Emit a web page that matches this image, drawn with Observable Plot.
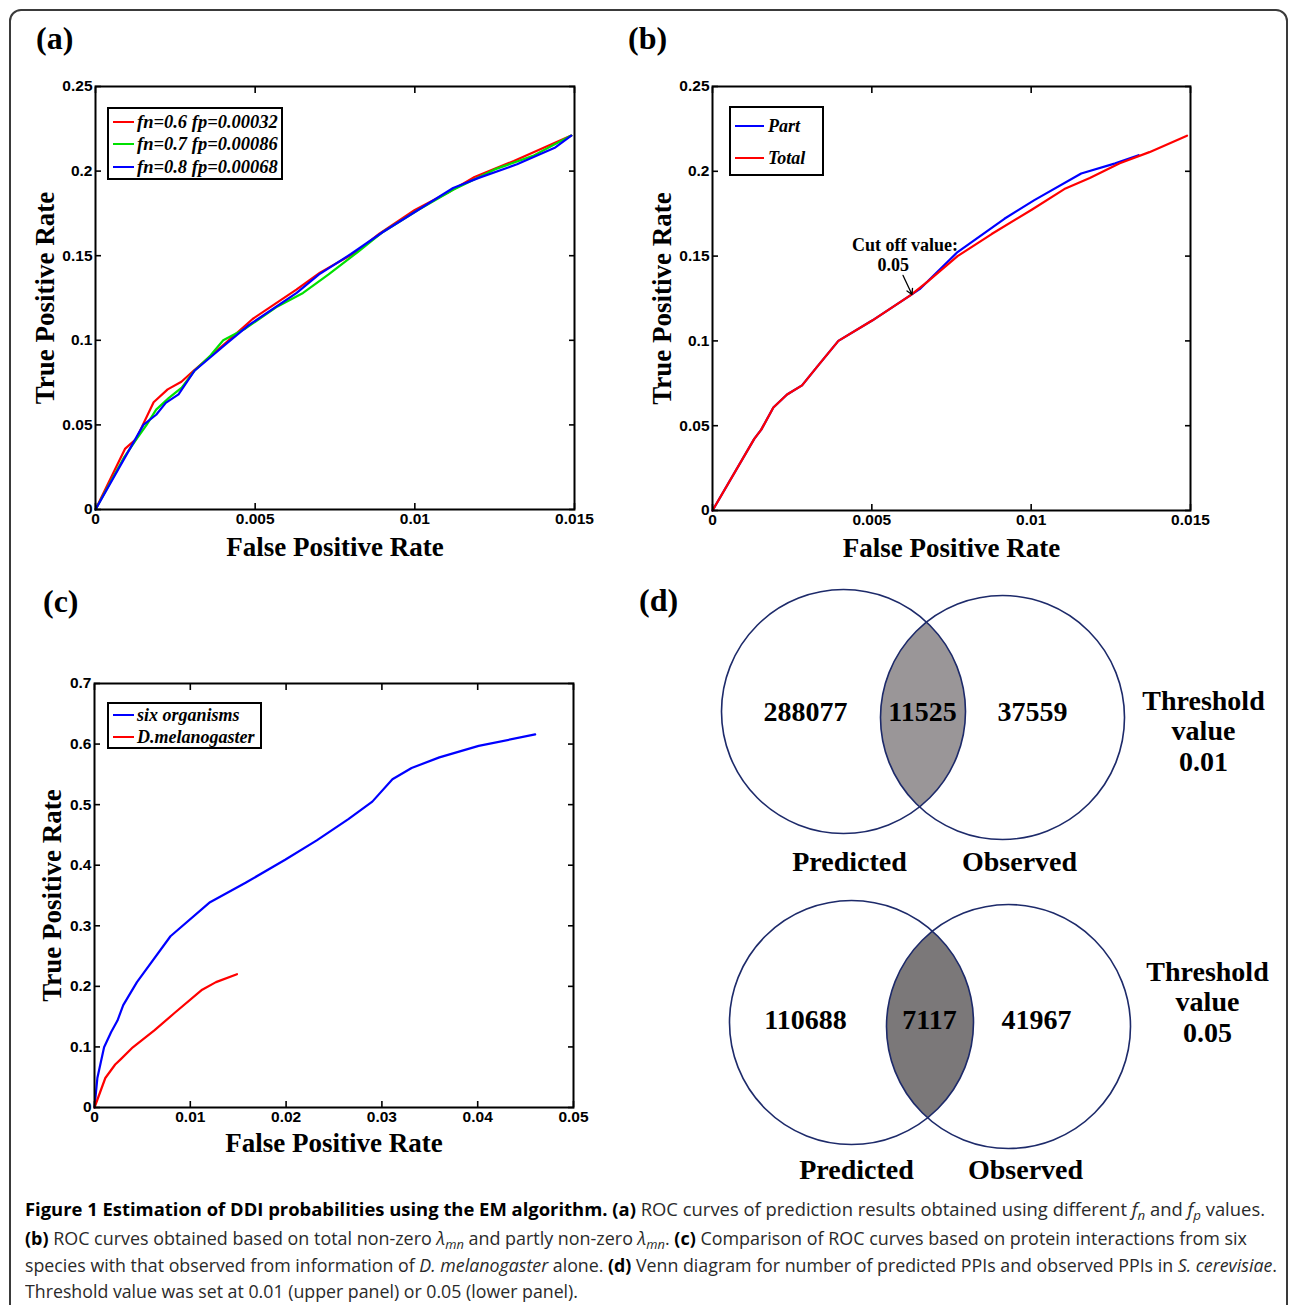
<!DOCTYPE html>
<html><head><meta charset="utf-8">
<script src="https://cdn.jsdelivr.net/npm/d3@7"></script>
<script src="https://cdn.jsdelivr.net/npm/@observablehq/plot@0.6"></script>
<style>
body{margin:0;background:#fff;}
#page{position:relative;width:1290px;height:1305px;overflow:hidden;background:#fff;}
#border{position:absolute;left:9px;top:9px;width:1279px;height:1330px;border:2px solid #3a3a3a;border-radius:12px;box-sizing:border-box;}
.plabel{position:absolute;font-family:"Liberation Serif","Times New Roman",serif;font-weight:bold;font-size:32px;line-height:1;color:#000;}
.legend{position:absolute;border:2px solid #000;background:#fff;box-sizing:border-box;font-family:"Liberation Serif","Times New Roman",serif;font-weight:bold;font-style:italic;color:#000;}
.legend .row{position:absolute;white-space:nowrap;line-height:1;}
.legend .sw{position:absolute;height:2.5px;}
.cl{position:absolute;left:25px;white-space:nowrap;font-family:"Open Sans",sans-serif;font-size:18px;line-height:24px;color:#2a2a2a;transform-origin:0 50%;}
.cl b{color:#000;font-weight:bold;}
.cl sub{font-size:0.72em;vertical-align:-0.3em;line-height:0;}
</style>
</head><body>
<div id="page"><div id="border"></div></div>
<script>
// ---------------- DATA ----------------
// Panel (a): ROC curves for different fn / fp values  [FPR, TPR]
const aLabels = ["fn=0.6 fp=0.00032", "fn=0.7 fp=0.00086", "fn=0.8 fp=0.00068"];
const aFn06 = [[0,0],[0.00093,0.036],[0.00127,0.0416],[0.00182,0.0634],[0.00226,0.071],[0.00269,0.0755],[0.00307,0.082],[0.00393,0.096],[0.00492,0.1126],[0.00629,0.130],[0.00703,0.140],[0.00815,0.152],[0.00889,0.163],[0.0100,0.177],[0.0111,0.188],[0.01187,0.1965],[0.0131,0.206],[0.0149,0.221]];
const aFn07 = [[0,0],[0.0009,0.031],[0.0013,0.042],[0.0016,0.050],[0.0019,0.059],[0.0023,0.066],[0.0027,0.072],[0.0031,0.082],[0.0036,0.091],[0.0040,0.100],[0.0047,0.107],[0.0057,0.120],[0.0065,0.128],[0.0073,0.139],[0.0082,0.152],[0.0090,0.164],[0.0101,0.177],[0.0112,0.189],[0.0125,0.201],[0.0137,0.209],[0.0149,0.221]];
const aFn08 = [[0,0],[0.0015,0.050],[0.0019,0.056],[0.0022,0.063],[0.0026,0.068],[0.0031,0.082],[0.0036,0.090],[0.0041,0.098],[0.0048,0.109],[0.0063,0.128],[0.0070,0.139],[0.0080,0.151],[0.0090,0.164],[0.0101,0.177],[0.0112,0.190],[0.0120,0.196],[0.0132,0.204],[0.0144,0.214],[0.0149,0.221]];
const abXTicks = [0, 0.005, 0.01, 0.015];
const abYTicks = [0, 0.05, 0.1, 0.15, 0.2, 0.25];

// Panel (b): total vs partly non-zero lambda
const bLabels = ["Part", "Total"];
const bPart = [[0,0],[0.00131,0.0422],[0.00153,0.0477],[0.00191,0.0607],[0.00234,0.0684],[0.00281,0.0738],[0.00328,0.0847],[0.00395,0.100],[0.00501,0.112],[0.00622,0.127],[0.0065,0.1305],[0.00769,0.1524],[0.00916,0.172],[0.0101,0.183],[0.01157,0.1987],[0.01264,0.2047],[0.01337,0.2095]];
const bTotal = [[0,0],[0.00131,0.0422],[0.00153,0.0477],[0.00191,0.0607],[0.00234,0.0684],[0.00281,0.0738],[0.00328,0.0847],[0.00395,0.100],[0.00501,0.112],[0.00622,0.127],[0.00675,0.135],[0.00769,0.150],[0.00876,0.163],[0.01003,0.1775],[0.01104,0.1895],[0.01184,0.196],[0.01278,0.2047],[0.01371,0.2113],[0.01489,0.221]];
const bNote = ["Cut off value:", "0.05"];
const bNoteX = [0.00604, 0.00567];
const bNoteY = [0.1563, 0.1445];
const bArrow = [0.00598, 0.1386, 0.00626, 0.1274];

// Panel (c): six organisms vs D. melanogaster alone
const cLabels = ["six organisms", "D.melanogaster"];
const cSix = [[0,0],[0.0003,0.0487],[0.001,0.0994],[0.00174,0.1245],[0.0024,0.1436],[0.003,0.169],[0.00443,0.207],[0.00793,0.2827],[0.01206,0.339],[0.01577,0.371],[0.0199,0.409],[0.0232,0.441],[0.0265,0.476],[0.029,0.505],[0.0311,0.542],[0.0331,0.5605],[0.036,0.578],[0.0401,0.597],[0.046,0.616]];
const cDmel = [[0,0],[0.00113,0.0487],[0.00216,0.071],[0.00278,0.0803],[0.004,0.0994],[0.00628,0.1277],[0.00835,0.156],[0.01124,0.1945],[0.01268,0.207],[0.01487,0.22]];
const cXTicks = [0, 0.01, 0.02, 0.03, 0.04, 0.05];
const cYTicks = [0, 0.1, 0.2, 0.3, 0.4, 0.5, 0.6, 0.7];

// Panel (d): Venn diagrams (predicted vs observed PPIs)
const dThresholds = ["0.01", "0.05"];
const dPredictedOnly = [288077, 110688];
const dOverlap = [11525, 7117];
const dObservedOnly = [37559, 41967];
const dSetNames = ["Predicted", "Observed"];

// ---------------- LAYOUT / STYLE ----------------
const RED = "#ff0000", GREEN = "#00e000", BLUE = "#0000ff";
const SERIF = "Liberation Serif, Times New Roman, serif";
const SANS = "Liberation Sans, Arial, sans-serif";
const page = document.getElementById("page");
function place(el, left, top) { el.style.position = "absolute"; el.style.left = left + "px"; el.style.top = top + "px"; page.appendChild(el); }
const toPts = a => a.map(([x, y]) => ({x, y}));

function roc({width, height, mL, mR, mT, mB, xDomain, yDomain, xTicks, yTicks, series, yTitleDx, xTitleDy, extra = []}) {
  const tickText = {fontSize: 15.5, fontWeight: "bold", fontFamily: SANS, fill: "#000"};
  return Plot.plot({
    width, height, marginLeft: mL, marginRight: mR, marginTop: mT, marginBottom: mB,
    x: {domain: xDomain}, y: {domain: yDomain},
    style: {fontFamily: SANS, fontSize: "15.5px", fontWeight: "bold", color: "#000", background: "transparent", overflow: "visible"},
    marks: [
      ...series.map(s => Plot.line(toPts(s.data), {x: "x", y: "y", stroke: s.color, strokeWidth: 2.2})),
      ...extra,
      Plot.frame({stroke: "#000", strokeWidth: 2}),
      Plot.axisX(xTicks, {anchor: "bottom", tickSize: -6, tickPadding: 9, tickFormat: d => String(d), label: null, strokeWidth: 1.6, ...tickText}),
      Plot.axisX(xTicks, {anchor: "top", tickSize: -6, tickPadding: 0, tickFormat: () => "", label: null, strokeWidth: 1.6}),
      Plot.axisY(yTicks, {anchor: "left", tickSize: -6, tickPadding: 9, tickFormat: d => String(d), label: null, strokeWidth: 1.6, ...tickText}),
      Plot.axisY(yTicks, {anchor: "right", tickSize: -6, tickPadding: 0, tickFormat: () => "", label: null, strokeWidth: 1.6}),
      Plot.text(["True Positive Rate"], {text: d => d, frameAnchor: "left", textAnchor: "middle", lineAnchor: "middle", dx: yTitleDx, rotate: -90, fontFamily: SERIF, fontSize: 27, fontWeight: "bold", fill: "#000"}),
      Plot.text(["False Positive Rate"], {text: d => d, frameAnchor: "bottom", textAnchor: "middle", lineAnchor: "middle", dy: xTitleDy, fontFamily: SERIF, fontSize: 27, fontWeight: "bold", fill: "#000"})
    ]
  });
}

function legend({left, top, width, height, labels, colors, rowY, swLeft, swWidth, textLeft, fontSize}) {
  const box = document.createElement("div");
  box.className = "legend";
  box.style.width = width + "px"; box.style.height = height + "px"; box.style.fontSize = fontSize + "px";
  labels.forEach((lab, i) => {
    const sw = document.createElement("div");
    sw.className = "sw"; sw.style.left = swLeft + "px"; sw.style.width = swWidth + "px";
    sw.style.top = (rowY[i] - 1.25) + "px"; sw.style.background = colors[i];
    box.appendChild(sw);
    const t = document.createElement("div");
    t.className = "row"; t.textContent = lab; t.style.left = textLeft + "px";
    t.style.top = (rowY[i] - fontSize * 0.5) + "px";
    box.appendChild(t);
  });
  place(box, left, top);
}

function panelLabel(txt, left, top) {
  const d = document.createElement("div"); d.className = "plabel"; d.textContent = txt; place(d, left, top);
}

// Panel (a)
place(roc({width: 600, height: 530, mL: 95, mR: 26, mT: 26, mB: 81,
  xDomain: [0, 0.015], yDomain: [0, 0.25], xTicks: abXTicks, yTicks: abYTicks,
  series: [{data: aFn06, color: RED}, {data: aFn07, color: GREEN}, {data: aFn08, color: BLUE}],
  yTitleDx: -50, xTitleDy: 38}), 0, 60);
legend({left: 107, top: 107, width: 176, height: 73, labels: aLabels, colors: [RED, GREEN, BLUE],
  rowY: [13, 35, 58], swLeft: 4, swWidth: 21, textLeft: 28, fontSize: 18.5});
panelLabel("(a)", 36, 22);

// Panel (b)
place(roc({width: 600, height: 530, mL: 92, mR: 30, mT: 26, mB: 80,
  xDomain: [0, 0.015], yDomain: [0, 0.25], xTicks: abXTicks, yTicks: abYTicks,
  series: [{data: bPart, color: BLUE}, {data: bTotal, color: RED}],
  yTitleDx: -50, xTitleDy: 38,
  extra: [
    Plot.text(bNote, {x: (d, i) => bNoteX[i], y: (d, i) => bNoteY[i], text: d => d, fontFamily: SERIF, fontSize: 18, fontWeight: "bold", fill: "#000"}),
    Plot.arrow([bArrow], {x1: d => d[0], y1: d => d[1], x2: d => d[2], y2: d => d[3], stroke: "#000", strokeWidth: 1.3, headLength: 7, bend: 0})
  ]}), 620, 60);
legend({left: 729, top: 106, width: 95, height: 70, labels: bLabels, colors: [BLUE, RED],
  rowY: [18, 50], swLeft: 4, swWidth: 29, textLeft: 37, fontSize: 18});
panelLabel("(b)", 628, 22);

// Panel (c)
place(roc({width: 600, height: 530, mL: 94, mR: 27, mT: 33, mB: 73,
  xDomain: [0, 0.05], yDomain: [0, 0.7], xTicks: cXTicks, yTicks: cYTicks,
  series: [{data: cSix, color: BLUE}, {data: cDmel, color: RED}],
  yTitleDx: -42, xTitleDy: 36}), 0, 650);
legend({left: 107, top: 702, width: 155, height: 47, labels: cLabels, colors: [BLUE, RED],
  rowY: [11, 33], swLeft: 4, swWidth: 21, textLeft: 28, fontSize: 18});
panelLabel("(c)", 43, 585);

// Panel (d): Venn diagrams
const vennLayout = [
  {cL: [223, 131], cR: [382, 137], r: 122, fill: "#9a9698", tx: [185, 302, 412], ty: 132, thX: 583, thY: 150, nameY: 282, nameX: [229, 399]},
  {cL: [231, 442], cR: [388, 446], r: 122, fill: "#7b7879", tx: [185, 309, 416], ty: 440, thX: 587, thY: 421, nameY: 590, nameX: [236, 405]}
];
function lens(c1, c2, r1, r2, n = 60) {
  const dx = c2[0] - c1[0], dy = c2[1] - c1[1], d = Math.hypot(dx, dy);
  const a = (r1 * r1 - r2 * r2 + d * d) / (2 * d);
  const th = Math.atan2(dy, dx), al = Math.acos(a / r1), be = Math.acos((d - a) / r2);
  const pts = [];
  for (let k = 0; k <= n; k++) { const t = th - al + 2 * al * k / n; pts.push({x: c1[0] + r1 * Math.cos(t), y: c1[1] + r1 * Math.sin(t)}); }
  for (let k = 0; k <= n; k++) { const t = th + Math.PI - be + 2 * be * k / n; pts.push({x: c2[0] + r2 * Math.cos(t), y: c2[1] + r2 * Math.sin(t)}); }
  return pts;
}
const vennMarks = [];
dThresholds.forEach((th, i) => {
  const L = vennLayout[i];
  vennMarks.push(Plot.line(lens(L.cL, L.cR, L.r, L.r), {x: "x", y: "y", fill: L.fill, stroke: "none"}));
  vennMarks.push(Plot.dot([L.cL, L.cR], {x: d => d[0], y: d => d[1], r: L.r, stroke: "#1d2a6a", strokeWidth: 1.6, fill: "none"}));
  const nums = [dPredictedOnly[i], dOverlap[i], dObservedOnly[i]];
  vennMarks.push(Plot.text(nums, {x: (d, k) => L.tx[k], y: () => L.ty, text: d => String(d), fontFamily: SERIF, fontSize: 28, fontWeight: "bold", fill: "#000"}));
  vennMarks.push(Plot.text(dSetNames, {x: (d, k) => L.nameX[k], y: () => L.nameY, text: d => d, fontFamily: SERIF, fontSize: 28, fontWeight: "bold", fill: "#000"}));
  vennMarks.push(Plot.text([`Threshold\nvalue\n${th}`], {x: () => L.thX, y: () => L.thY, text: d => d, lineHeight: 1.1, fontFamily: SERIF, fontSize: 28, fontWeight: "bold", fill: "#000"}));
});
place(Plot.plot({
  width: 670, height: 600, margin: 0,
  x: {domain: [0, 670], range: [0, 670], axis: null},
  y: {domain: [0, 600], range: [0, 600], axis: null},
  style: {background: "transparent", overflow: "visible"},
  marks: vennMarks
}), 620, 580);
panelLabel("(d)", 639, 584);

// Caption
const capLines = [
  {w: 1240, y: 1197, html: '<b>Figure 1 Estimation of DDI probabilities using the EM algorithm.</b> <b>(a)</b> ROC curves of prediction results obtained using different <i>f</i><sub><i>n</i></sub> and <i>f</i><sub><i>p</i></sub> values.'},
  {w: 1222, y: 1226, html: '<b>(b)</b> ROC curves obtained based on total non-zero <i>λ</i><sub><i>mn</i></sub> and partly non-zero <i>λ</i><sub><i>mn</i></sub>. <b>(c)</b> Comparison of ROC curves based on protein interactions from six'},
  {w: 1252, y: 1253, html: 'species with that observed from information of <i>D. melanogaster</i> alone. <b>(d)</b> Venn diagram for number of predicted PPIs and observed PPIs in <i>S. cerevisiae</i>.'},
  {w: 553, y: 1279, html: 'Threshold value was set at 0.01 (upper panel) or 0.05 (lower panel).'}
];
const capEls = capLines.map(c => {
  const d = document.createElement("div"); d.className = "cl"; d.innerHTML = c.html; d.style.top = c.y + "px"; page.appendChild(d); return d;
});
function fitCaption() {
  capEls.forEach((d, i) => { d.style.transform = "none"; const w = d.getBoundingClientRect().width; d.style.transform = `scaleX(${capLines[i].w / w})`; });
}
fitCaption();
if (document.fonts && document.fonts.ready) document.fonts.ready.then(fitCaption);
</script>
</body></html>
